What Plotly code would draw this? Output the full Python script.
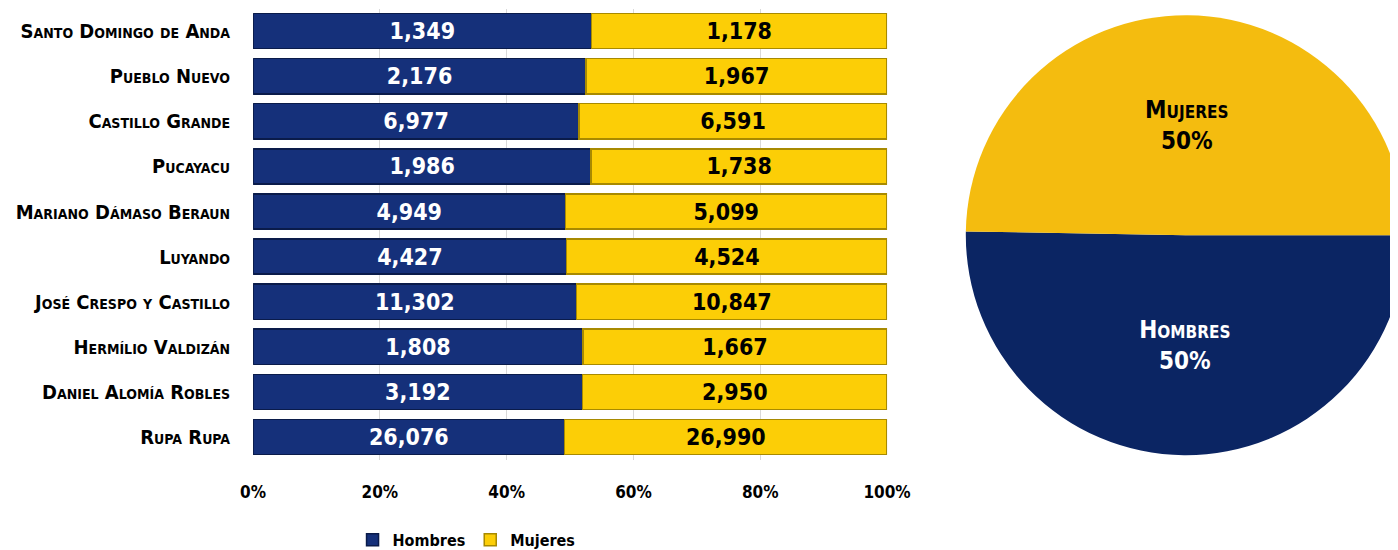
import plotly.graph_objects as go

# distritos, top to bottom as in the chart
distritos = [
    "Santo Domingo de Anda", "Pueblo Nuevo", "Castillo Grande", "Pucayacu",
    "Mariano Dámaso Beraun", "Luyando", "José Crespo y Castillo",
    "Hermílio Valdizán", "Daniel Alomía Robles", "Rupa Rupa",
]
hombres = [1349, 2176, 6977, 1986, 4949, 4427, 11302, 1808, 3192, 26076]
mujeres = [1178, 1967, 6591, 1738, 5099, 4524, 10847, 1667, 2950, 26990]

pie_labels = ["Hombres", "Mujeres"]
pie_values = [sum(hombres), sum(mujeres)]

NAVY = "#15307a"
GOLD = "#fcce06"
NARROW = "DejaVu Sans Condensed, sans-serif"

fig = go.Figure()

fig.add_trace(go.Bar(
    y=distritos, x=hombres, name="Hombres", orientation="h",
    text=[f"{v:,}" for v in hombres], textposition="inside",
    insidetextanchor="middle", constraintext="none",
    textfont=dict(family=NARROW, size=23, color="white", weight="bold"),
    marker=dict(color=NAVY, line=dict(color="#0a1b4a", width=1.5)),
))
fig.add_trace(go.Bar(
    y=distritos, x=mujeres, name="Mujeres", orientation="h",
    text=[f"{v:,}" for v in mujeres], textposition="inside",
    insidetextanchor="middle", constraintext="none",
    textfont=dict(family=NARROW, size=23, color="black", weight="bold"),
    marker=dict(color=GOLD, line=dict(color="#a88a00", width=1.5)),
))

fig.add_trace(go.Pie(
    labels=pie_labels, values=pie_values, sort=False, direction="clockwise",
    rotation=90, texttemplate="%{label}<br>%{percent:.0%}",
    textposition="inside", insidetextorientation="horizontal",
    textfont=dict(family=NARROW, size=24, color=["white", "black"],
                  weight="bold", variant="small-caps"),
    marker=dict(colors=["#0b2563", "#f4bc0f"]),
    domain=dict(x=[0.685, 1.0], y=[0.187, 0.987]),
    showlegend=False, hoverinfo="label+value+percent",
))

fig.update_layout(
    width=1398, height=550,
    margin=dict(l=0, r=0, t=0, b=0),
    paper_bgcolor="white", plot_bgcolor="white",
    barmode="stack", barnorm="percent", bargap=0.22,
    font=dict(family=NARROW, color="black"),
    xaxis=dict(
        domain=[0.1753, 0.6288], range=[0, 100], tickvals=[0, 20, 40, 60, 80, 100],
        ticktext=["0%", "20%", "40%", "60%", "80%", "100%"],
        tickfont=dict(family=NARROW, size=17, weight="bold"),
        showgrid=True, gridcolor="#d9d9d9", gridwidth=1,
        zeroline=False, showline=False, ticklabelstandoff=20, automargin=False,
    ),
    yaxis=dict(
        domain=[0.179, 0.999], autorange="reversed",
        tickfont=dict(family=NARROW, size=20, weight="bold", variant="small-caps"),
        showgrid=False, zeroline=False, ticklabelstandoff=22, automargin=False,
    ),
    legend=dict(
        orientation="h", x=0.328, xanchor="center", y=0.033, yanchor="middle",
        font=dict(family=NARROW, size=16, weight="bold"), traceorder="normal",
        itemwidth=30,
    ),
)

fig.write_html("out.html")
